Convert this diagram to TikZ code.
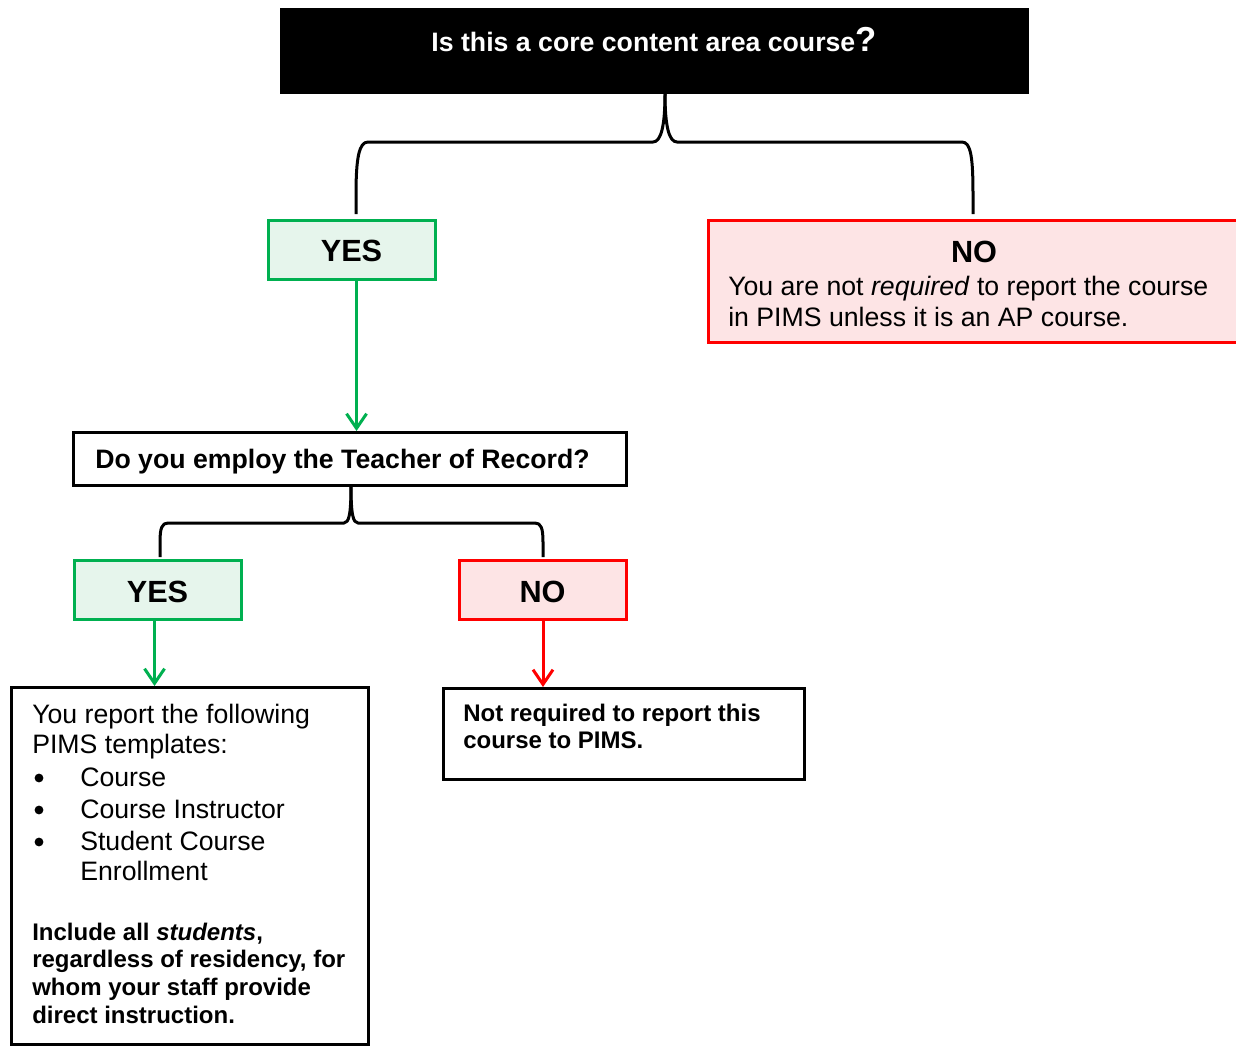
\documentclass[tikz,border=0pt]{standalone}
\usepackage{fontspec}
\setmainfont{Liberation Sans}
\usetikzlibrary{arrows.meta}
\definecolor{gfill}{HTML}{E6F5EC}
\definecolor{gline}{HTML}{00B050}
\definecolor{rfill}{HTML}{FDE4E5}
\definecolor{rline}{HTML}{FF0000}
\begin{document}
\begin{tikzpicture}[x=0.75pt,y=-0.75pt,
  box/.style={draw, rectangle, inner sep=0pt, anchor=north west, line width=2.25pt},
  gbox/.style={box, draw=gline, fill=gfill},
  rbox/.style={box, draw=rline, fill=rfill},
  kbox/.style={box, draw=black, fill=white},
  tx/.style={inner sep=0pt, anchor=base west, font=\fontsize{20}{23}\selectfont},
  txb/.style={inner sep=0pt, anchor=base west, font=\bfseries\fontsize{18}{21}\selectfont},
  big/.style={inner sep=0pt, anchor=base, font=\bfseries\fontsize{23}{26}\selectfont},
  dot/.style={circle, fill=black, inner sep=0pt, minimum size=6.6pt},
  brace/.style={draw=black, line width=2.25pt, line join=round},
  garrow/.style={draw=gline, line width=2.25pt, -{Straight Barb[length=11pt,width=15pt,line width=2.25pt]}},
  rarrow/.style={draw=rline, line width=2.25pt, -{Straight Barb[length=11pt,width=15pt,line width=2.25pt]}}
]
\clip (0,0) rectangle (1236,1046);
\fill[white] (0,0) rectangle (1236,1046);

% boxes
\node[fill=black, inner sep=0pt, anchor=north west, minimum width=561.75pt, minimum height=64.5pt] (top) at (280,8) {};
\node[gbox, minimum width=125.25pt, minimum height=44.25pt] (yes1) at (267,219) {};
\node[rbox, minimum width=408pt, minimum height=91.5pt] (no1) at (707,219) {};
\node[kbox, minimum width=414.75pt, minimum height=39.75pt] (q2) at (72,431) {};
\node[gbox, minimum width=125.25pt, minimum height=44.25pt] (yes2) at (73,559) {};
\node[rbox, minimum width=125.25pt, minimum height=44.25pt] (no2) at (458,559) {};
\node[kbox, minimum width=267.75pt, minimum height=268pt] (lb) at (10,686) {};
\node[kbox, minimum width=270.75pt, minimum height=68.25pt] (rb) at (442,687) {};

% texts
\node[inner sep=0pt, anchor=base, text=white, font=\bfseries\fontsize{20}{23}\selectfont] (ttop) at (654,51) {Is this a core content area course{\fontsize{26}{26}\selectfont ?}};
\node[big] (tyes1) at (351.5,261) {YES};
\node[big] (tno1) at (974,262) {NO};
\node[tx] (tno1a) at (728,295) {You are not \textit{required} to report the course};
\node[tx] (tno1b) at (728,326) {in PIMS unless it is an AP course.};
\node[inner sep=0pt, anchor=base west, font=\bfseries\fontsize{20}{23}\selectfont] (tq2) at (95,468) {Do you employ the Teacher of Record?};
\node[big] (tyes2) at (157.5,602) {YES};
\node[big] (tno2) at (542.5,602) {NO};

\node[tx] (l1) at (32,723) {You report the following};
\node[tx] (l2) at (32,753) {PIMS templates:};
\node[dot] (b1) at (39,778) {};
\node[dot] (b2) at (39,810) {};
\node[dot] (b3) at (39,842) {};
\node[tx] (l3) at (80,786) {Course};
\node[tx] (l4) at (80,818) {Course Instructor};
\node[tx] (l5) at (80,850) {Student Course};
\node[tx] (l6) at (80,880) {Enrollment};
\node[txb] (l7) at (32,940) {Include all \textit{students},};
\node[txb] (l8) at (32,967) {regardless of residency, for};
\node[txb] (l9) at (32,995) {whom your staff provide};
\node[txb] (l10) at (32,1023) {direct instruction.};

\node[txb] (r1) at (463,721) {Not required to report this};
\node[txb] (r2) at (463,748) {course to PIMS.};

% brace 1
\coordinate (c1) at (665,94);
\coordinate (c1L) at (356,214);
\coordinate (c1R) at (973,214);
\draw[brace] (c1L) -- (356,195) .. controls (356,158) and (359,142) .. (368,142) -- (653,142)
  .. controls (661,142) and (665,126) .. (c1);
\draw[brace] (c1) .. controls (665,126) and (669,142) .. (677,142) -- (962,142)
  .. controls (971,142) and (973,158) .. (973,195) -- (c1R);

% brace 2
\coordinate (c2) at (351,486);
\coordinate (c2L) at (160,557);
\coordinate (c2R) at (543,557);
\draw[brace] (c2L) -- (160,542) .. controls (160,528) and (162,523) .. (168,523) -- (344,523)
  .. controls (349,523) and (351,514) .. (c2);
\draw[brace] (c2) .. controls (351,514) and (353,523) .. (358,523) -- (535,523)
  .. controls (541,523) and (543,528) .. (543,542) -- (c2R);

% arrows
\coordinate (a1) at ([xshift=3.4pt]yes1.south);
\draw[garrow] (a1) -- (a1 |- q2.north);
\coordinate (a2) at ([xshift=-2.6pt]yes2.south);
\draw[garrow] (a2) -- (a2 |- lb.north);
\draw[rarrow] (no2.south) -- (no2.south |- rb.north);
\end{tikzpicture}
\end{document}
